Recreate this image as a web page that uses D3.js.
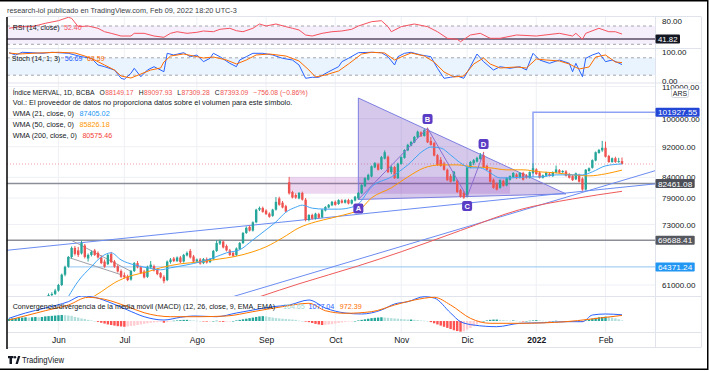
<!DOCTYPE html>
<html lang="es">
<head>
<meta charset="UTF-8">
<title>Índice MERVAL, 1D</title>
<script src="https://d3js.org/d3.v7.min.js"></script>
<style>
  body { margin: 0; background: #fff; }
  svg { display: block; }
  text { font-family: "Liberation Sans", Arial, sans-serif; }
</style>
</head>
<body>
<div id="chart"></div>
<script>
// ---- data ----
const months = ["Jun", "Jul", "Ago", "Sep", "Oct", "Nov", "Dic", "2022", "Feb"];
const monthBar = [15, 35, 57, 78, 99, 119, 139, 160, 181];

// daily bars [open, high, low, close]
const candles = [
  [56800,57300,56300,57000],[57000,57400,56500,56700],[56700,57200,56200,57100],[57100,57800,56900,57600],
  [57600,58000,57000,57200],[57200,57700,56800,57500],[57500,58200,57300,58000],[58000,58300,57400,57600],
  [57600,58100,57200,57900],[57900,58400,57500,58200],[58200,58600,57800,58000],[58000,58800,57900,58600],
  [58600,59500,58400,59200],[59200,59700,58900,59400],[59400,60300,59200,60000],[60000,61200,59800,61000],
  [61000,63100,60800,62900],[62900,64600,62600,64400],[64400,66500,64200,66300],[66300,68400,66000,68100],
  [68100,68500,66600,66900],[67600,68300,66300,66700],[67000,69600,66800,69100],[68600,68900,66000,66300],
  [66000,67000,65400,66700],[66700,67600,66400,67300],[67600,67900,66500,66700],[67100,67400,66000,66200],
  [66200,66600,64900,65100],[65400,65800,64200,64400],[64900,66900,64700,66700],[66900,67300,65100,65300],
  [65400,65700,64200,64400],[64500,64800,63300,63500],[63600,63900,62300,62500],[62800,63300,62200,62400],
  [62600,62900,61700,61900],[62000,63800,61800,63600],[63600,65300,63400,65100],[65100,65500,64100,64300],
  [64300,64600,63000,63200],[63500,63800,62200,62400],[62500,64600,62300,64400],[64300,65500,64000,64800],
  [64500,64800,63500,63700],[63800,64100,62800,63000],[63200,63400,62200,62400],[62500,62800,61300,61700],
  [61900,65600,61700,65400],[65300,66100,65000,65800],[66000,66300,65300,65500],[65500,66400,65300,66200],
  [66200,66500,65100,65300],[65400,66900,65200,66700],[66600,67400,66400,67100],[67500,67900,66000,66200],
  [66400,66700,65200,65400],[65400,66000,65200,65800],[65800,66100,64800,65000],[65100,66100,64900,65900],
  [65900,66200,65000,65200],[65300,66100,65100,65900],[65900,67700,65700,67500],[67500,69700,67300,69100],
  [69000,69800,68700,69500],[69400,69600,68000,68200],[68500,68800,67400,67600],[67600,67900,66500,66700],
  [67100,67400,66300,66500],[66700,68200,66500,68000],[67900,69300,67700,69100],[69100,71400,68900,71200],
  [71200,72600,71000,72300],[72500,72800,71500,71700],[71700,73700,71500,73500],[73500,76500,73300,76300],
  [76300,77000,76000,76700],[76700,77000,75600,75800],[76100,76400,75100,75300],[75400,75700,74500,74700],
  [74900,76500,74700,76300],[76300,79200,76100,78100],[78900,79300,77200,77400],[77900,78300,76600,76800],
  [77100,77400,75700,75900],[82800,84100,79800,80100],[80400,80700,78900,79100],[79700,80100,78800,79100],
  [78900,80400,78700,80200],[80200,80500,78400,78600],[78600,79000,73700,74000],[74000,75300,73700,75100],
  [75100,75400,74100,74300],[74300,75600,74100,75400],[75300,75600,74300,74500],[74600,76500,74400,76300],
  [76100,77100,75900,76900],[76800,77600,76600,77400],[77300,78300,77100,78100],[78100,78400,77200,77400],
  [77600,78700,77400,78500],[78400,78700,77700,77900],[77900,78700,77700,78500],[78500,78800,77500,77700],
  [77700,78700,77500,78500],[78400,79500,78200,79300],[78900,80400,78600,80200],[80100,82300,79900,82100],
  [81800,84000,81600,83800],[83400,84900,83200,84600],[84200,87000,84000,86800],[86500,87900,86300,87600],
  [87300,87700,85700,85900],[86100,89500,85900,89200],[88800,91000,88600,90500],[89300,89600,85100,85300],
  [85300,87000,84800,86600],[86600,86900,83600,83800],[83800,87700,83600,87500],[87400,89400,87200,89200],
  [89000,91300,88800,91100],[91000,92800,90800,92500],[92300,93600,92100,93300],[93200,95000,93000,94700],
  [94600,96500,94400,96200],[96000,96300,94700,94900],[95000,97000,94800,96600],[96400,97400,93000,93200],
  [93600,94700,92300,92500],[93000,93300,89400,89600],[89700,90000,86900,87100],[88500,89200,86700,86900],
  [87500,88000,85700,85900],[85900,86200,83100,83300],[84300,84800,82700,82900],[83100,85600,82900,85400],
  [83200,83500,80200,80400],[80900,81200,79100,79300],[80200,80600,78800,79100],[79300,86800,79100,86500],
  [86500,88200,86300,87900],[87600,88700,87100,88400],[88000,89300,87800,89000],[88700,90300,88500,89700],
  [89700,90600,86400,86600],[86900,87200,85700,85900],[85900,86200,82700,82900],[83400,83700,81200,81400],
  [82400,82700,80800,81000],[81400,83500,81200,83300],[83100,83400,81700,81900],[82000,84000,81800,83800],
  [83400,84500,83200,84300],[84000,85300,83800,85100],[84700,85000,83600,83800],[83900,85300,83700,85100],
  [85100,85400,83200,83400],[84400,84800,83700,83900],[83900,85500,83700,85300],[85100,87600,84900,86300],
  [86000,86300,84600,84800],[85200,85500,83700,83900],[83900,84700,83700,84500],[84400,85400,84200,85200],
  [84900,85100,84200,84400],[84300,85500,84100,85300],[85200,87000,85000,86000],[85800,86100,85000,85200],
  [85300,85800,85100,85600],[85500,85800,84200,84400],[84800,85100,83700,83900],[84300,84600,83100,83300],
  [83500,85200,83300,85000],[84600,84900,82700,82900],[83700,84000,80700,81000],[81000,86100,80800,85900],
  [85600,86500,85400,86300],[86400,88600,86200,88400],[88300,90700,88100,90500],[90300,91400,90100,91100],
  [91000,93600,90600,91700],[91700,93400,89100,89300],[89500,89800,87700,87900],[87900,89100,87700,88900],
  [88900,89300,87700,87900],[87900,89000,87700,88149.17],[88149.17,89097.93,87309.28,87393.09]
];

// moving averages [bar, value]
const wma21 = [[18,58900],[21,61700],[25,64400],[28,66320],[31,67120],[34,65720],[38,64760],[42,64200],
  [46,63820],[49,64200],[54,64760],[58,65330],[62,66120],[66,67120],[70,67730],[74,69740],[78,71870],
  [81,73580],[84,75720],[87,76860],[89,77330],[92,76640],[96,76420],[100,76420],[104,76860],[106,77600],
  [110,81650],[116,84100],[121,87160],[126,91090],[128,91900],[131,91640],[134,89760],[137,87670],
  [140,86400],[143,86400],[146,85120],[149,83850],[152,83850],[157,84100],[161,84100],[166,84610],
  [171,84610],[174,84610],[177,85380],[181,86910],[186,87405.02]];
const wma50 = [[24,58360],[28,59790],[32,61400],[37,62690],[42,63440],[46,64200],[52,64960],[58,65340],
  [64,65920],[68,66320],[74,67330],[78,68330],[83,70170],[88,72300],[93,73580],[98,74460],[104,75590],
  [106,76050],[110,79010],[116,81410],[121,84100],[126,86400],[131,87160],[136,87160],[141,86650],
  [146,86400],[151,85890],[156,85890],[161,85380],[166,85120],[171,84610],[176,84360],[181,84870],[186,85826.18]];
const wma200 = [[76,58900],[88,61220],[106,64570],[119,67330],[137,71720],[155,76310],[171,78770],[186,80575.46]];

const rsi = [[0,65],[3,68.5],[7,68.5],[9,72.2],[11,75.9],[15,81.6],[18,89],[19,86.8],[21,68.5],[24,70],
  [27,65],[29,57.5],[31,54],[34,48.1],[37,48.1],[38,54],[41,54],[44,48.1],[47,45.3],[49,54],[51,57.5],
  [54,54],[57,56.2],[59,59.1],[62,57.5],[64,62.8],[67,65],[69,59.7],[71,57.5],[74,65],[76,74.4],[78,70],
  [81,74.4],[84,68.5],[86,65],[88,61.3],[90,50.3],[92,48.1],[95,54],[98,57.5],[101,59.1],[104,62.8],
  [106,70],[110,79.4],[113,81.6],[115,68.5],[116,57.5],[119,68.5],[123,74.4],[127,68.5],[130,57.5],
  [133,43.1],[136,40.9],[137,35.7],[140,50.3],[143,54],[146,43.1],[149,43.1],[154,50.3],[160,48.1],
  [167,54],[171,48.1],[172,54],[174,40.9],[175,54],[179,65],[182,57.5],[184,57.5],[186,52.4]];

const stochK = [[0,97.6],[2,89.7],[4,99],[7,97.6],[10,95.5],[13,99],[18,95.5],[22,83.8],[25,78.3],[27,55.2],
  [29,49.3],[32,37.9],[34,9.3],[35,5.9],[37,26.6],[38,43.8],[40,14.8],[42,37.9],[44,49.3],[47,32.1],
  [48,95.5],[50,89.7],[53,97.6],[55,83.8],[57,89.7],[59,66.6],[61,78.3],[62,95.5],[64,83.8],[67,61],
  [69,49.3],[70,72.4],[72,83.8],[74,95.5],[77,95.5],[80,89.7],[83,78.3],[86,72.4],[88,55.2],[90,9.3],
  [92,12.8],[94,12.8],[97,32.1],[100,49.3],[101,66.6],[103,78.3],[106,97.6],[110,99],[113,97.6],[115,83.8],
  [117,55.2],[118,83.8],[120,95.5],[122,99],[125,89.7],[128,83.8],[130,43.8],[132,9.3],[134,12.8],
  [136,17.2],[138,9.3],[140,49.3],[142,93.1],[144,66.6],[147,37.9],[149,49.3],[152,43.8],[155,49.3],
  [157,37.9],[159,95.5],[161,72.4],[164,61],[167,72.4],[170,61],[171,32.1],[172,61],[174,14.8],[175,78.3],
  [177,89.7],[179,97.6],[181,66.6],[183,72.4],[186,56.69]];
const stochD = [[0,96.6],[3,93.1],[9,96.6],[15,99],[20,96.6],[23,86.2],[26,72.4],[29,55.2],[32,37.9],
  [34,17.2],[37,10.3],[40,24.1],[43,37.9],[46,44.8],[47,65.5],[49,86.2],[53,93.1],[56,86.2],[59,79.3],
  [62,82.8],[66,72.4],[69,58.6],[72,72.4],[75,89.7],[79,93.1],[84,86.2],[88,69],[91,37.9],[93,13.8],
  [96,20.7],[100,34.5],[103,58.6],[105,75.9],[107,93.1],[110,99],[114,96.6],[117,72.4],[119,82.8],
  [122,96.6],[126,86.2],[129,65.5],[132,31],[135,13.8],[138,17.2],[141,58.6],[144,79.3],[146,58.6],
  [149,44.8],[154,48.3],[157,44.8],[160,75.9],[163,72.4],[167,69],[170,58.6],[173,41.4],[176,48.3],
  [178,82.8],[181,89.7],[184,65.5],[186,63.59]];

const macdLine = [[0,470],[5,1390],[11,2260],[18,3360],[22,4350],[25,4230],[30,3360],[36,1910],[41,750],
  [47,170],[52,640],[56,870],[63,750],[69,1390],[74,1910],[80,2490],[85,2780],[91,3650],[96,2260],
  [102,1390],[107,1220],[113,1910],[117,2960],[121,3360],[126,4230],[129,4000],[134,1390],[137,-120],
  [141,-700],[148,-990],[155,-400],[162,-300],[169,-120],[174,-120],[177,1040],[181,1220],[186,1077.04]];
const signalLine = [[0,170],[11,1790],[18,2780],[24,4120],[29,3770],[36,2490],[41,1440],[49,750],[58,750],
  [66,870],[74,1620],[83,2490],[91,3080],[96,1790],[102,1340],[110,1620],[117,2780],[123,3650],[129,4120],
  [134,2780],[140,470],[146,-400],[155,-400],[169,-120],[176,300],[186,972.39]];
const hist = [
  400,450,500,550,600,650,600,650,700,650,700,800,850,900,950,1000,1050,1000,950,900,
  700,600,450,350,200,100,0,-150,-300,-450,-600,-700,-800,-900,-950,-1000,
  -950,-850,-800,-700,-600,-500,-400,-300,-250,-200,-150,-300,-200,-50,50,
  100,150,200,200,150,100,50,0,-50,-100,-50,0,50,-100,-150,-100,-50,0,
  100,200,300,400,500,600,700,800,850,800,700,600,500,450,400,350,300,250,200,
  50,0,-100,-200,-350,-500,-600,-700,-650,-600,-550,-450,-350,-250,-150,-100,-50,0,
  100,200,300,400,500,550,600,650,600,550,500,450,400,350,300,250,250,200,150,100,
  50,0,-200,-400,-600,-800,-1000,-1200,-1400,-1600,-1750,-1850,-1800,-1500,-1200,-900,-600,-300,
  0,100,200,250,250,200,150,100,
  50,100,50,0,-50,0,50,100,150,100,50,0,-50,0,50,0,-50,-100,-150,-100,-50,-100,-150,
  100,250,400,550,650,700,750,700,600,450,300,104.65
];

const priceTicks = [110000, 100000, 92000, 84000, 79000, 73000, 61000];
const priceLevels = [
  { price: 82461.08, from: 0, color: "#8b8e96", box: "#4c4f57", width: 1.5 },
  { price: 69688.41, from: 0, color: "#8b8e96", box: "#54575e", width: 1.5 },
  { price: 64371.24, from: 18, color: "#90c4f5", box: "#2196f3", width: 1 }
];
const lastClose = 87393.09;
const rsiLevel = 41.82;

// drawings [bar, price]
const trendLines = [
  { a: [0, 67670], b: [186, 81550], color: "#6b8cf2" },
  { a: [90, 62850], b: [175, 80560], color: "#6b8cf2" }
];
const flagLines = [
  { a: [19, 69630], b: [37, 63530] },
  { a: [18, 66220], b: [34, 62900] }
];
const triangle = [[106, 106320], [106, 78650], [169, 79970]];
const zoneBox = { from: 85, to: 152, top: 84100, bottom: 80000 };
const abcd = [
  { label: "A", bar: 106, price: 78650, pos: 1 },
  { label: "B", bar: 127, price: 97250, pos: -1 },
  { label: "C", bar: 139, price: 79250, pos: 1 },
  { label: "D", bar: 144, price: 90300, pos: -1 }
];
const target = { bar: 159, from: 84100, to: 101927.55 };

// ---- layout ----
const W = 709, H = 371;
const left = 7, right = 655, axisEdge = 701;
const paneRsi = [17, 48], paneSto = [48, 83], paneMain = [83, 296], paneMacd = [296, 332];

const x = d3.scaleLinear().domain([0, candles.length - 1]).range([9, 622]);
const y = d3.scaleLog().domain([61000, 92000]).range([285, 146.7]);
const yRsi = d3.scaleLinear().domain([30, 70]).range([44.3, 26]);
const ySto = d3.scaleLinear().domain([0, 100]).range([81, 52]);
const yMacd = d3.scaleLinear().domain([0, 4000]).range([321, 298]);

const svg = d3.select("#chart").append("svg").attr("width", W).attr("height", H);
svg.append("rect").attr("width", W).attr("height", H).attr("fill", "#fff");

const defs = svg.append("defs");
function clip(id, y0, y1, x0 = left, x1 = right) {
  defs.append("clipPath").attr("id", id).append("rect")
    .attr("x", x0).attr("y", y0).attr("width", x1 - x0).attr("height", y1 - y0);
  return `url(#${id})`;
}
const clipRsi = clip("c-rsi", ...paneRsi), clipSto = clip("c-sto", ...paneSto);
const clipMain = clip("c-main", ...paneMain), clipMacd = clip("c-macd", ...paneMacd);
const clipMacdAxis = clip("c-macd-ax", paneMacd[0], paneMacd[1], right, axisEdge);

// grid
const grid = svg.append("g").attr("stroke", "#eef0f5").attr("stroke-width", 1);
monthBar.forEach(b => grid.append("line").attr("x1", x(b)).attr("x2", x(b)).attr("y1", paneRsi[0]).attr("y2", paneMacd[1]));
priceTicks.forEach(p => grid.append("line").attr("x1", left).attr("x2", right).attr("y1", y(p)).attr("y2", y(p)));

// pane separators and axis frame
const sep = svg.append("g").attr("stroke", "#e0e3eb").attr("stroke-width", 1);
[16.5, 48.5, 83, 296.5, 332.5, 347.5].forEach(v =>
  sep.append("line").attr("x1", left).attr("x2", axisEdge).attr("y1", v).attr("y2", v));
[right + 0.5, axisEdge + 0.5].forEach(v =>
  sep.append("line").attr("x1", v).attr("x2", v).attr("y1", 16.5).attr("y2", 347.5));

const line = (xs, ys) => d3.line().x(d => xs(d[0])).y(d => ys(d[1]));

// ---- RSI pane ----
const gR = svg.append("g").attr("clip-path", clipRsi);
gR.append("rect").attr("x", left).attr("width", right - left)
  .attr("y", yRsi(70)).attr("height", yRsi(30) - yRsi(70)).attr("fill", "#f4effb");
[70, 30].forEach(v => gR.append("line").attr("x1", left).attr("x2", right)
  .attr("y1", yRsi(v)).attr("y2", yRsi(v)).attr("stroke", "#a4a6ae").attr("stroke-dasharray", "3,3"));
gR.append("line").attr("x1", left).attr("x2", right).attr("y1", yRsi(rsiLevel)).attr("y2", yRsi(rsiLevel))
  .attr("stroke", "#5b4c66").attr("stroke-width", 1.5);
gR.append("path").datum(rsi).attr("d", line(x, yRsi)).attr("fill", "none")
  .attr("stroke", "#f7525f").attr("stroke-width", 1);

// ---- Stoch pane ----
const gS = svg.append("g").attr("clip-path", clipSto);
gS.append("rect").attr("x", left).attr("width", right - left)
  .attr("y", ySto(80)).attr("height", ySto(20) - ySto(80)).attr("fill", "#eaf4fe");
[80, 20].forEach(v => gS.append("line").attr("x1", left).attr("x2", right)
  .attr("y1", ySto(v)).attr("y2", ySto(v)).attr("stroke", "#a4a6ae").attr("stroke-dasharray", "3,3"));
gS.append("path").datum(stochK).attr("d", line(x, ySto)).attr("fill", "none").attr("stroke", "#2962ff").attr("stroke-width", 1);
gS.append("path").datum(stochD).attr("d", line(x, ySto)).attr("fill", "none").attr("stroke", "#ff6d00").attr("stroke-width", 1);

// ---- main pane ----
const gM = svg.append("g").attr("clip-path", clipMain);
const px = p => [x(p[0]), y(p[1])];

gM.append("line").attr("x1", left).attr("x2", right).attr("y1", y(lastClose)).attr("y2", y(lastClose))
  .attr("stroke", "#f5a0a6").attr("stroke-dasharray", "1,2");
priceLevels.forEach(l => gM.append("line").attr("x1", l.from ? x(l.from) : left)
  .attr("x2", right).attr("y1", y(l.price)).attr("y2", y(l.price))
  .attr("stroke", l.color).attr("stroke-width", l.width));

// zone + triangle
gM.append("rect").attr("x", x(zoneBox.from)).attr("width", x(zoneBox.to) - x(zoneBox.from))
  .attr("y", y(zoneBox.top)).attr("height", y(zoneBox.bottom) - y(zoneBox.top))
  .attr("fill", "rgba(171,71,188,0.22)");
gM.append("polygon").attr("points", triangle.map(p => px(p).join(",")).join(" "))
  .attr("fill", "rgba(103,58,183,0.28)").attr("stroke", "#7d7fe0").attr("stroke-width", 1);

// extended trend lines
function extend(a, b) {
  const [x1, y1] = px(a), [x2, y2] = px(b), k = (y2 - y1) / (x2 - x1);
  return [[left, y1 + (left - x1) * k], [right, y1 + (right - x1) * k]];
}
trendLines.forEach(t => {
  const [p, q] = extend(t.a, t.b);
  gM.append("line").attr("x1", p[0]).attr("y1", p[1]).attr("x2", q[0]).attr("y2", q[1])
    .attr("stroke", t.color).attr("stroke-width", 1);
});
flagLines.forEach(t => gM.append("line").attr("x1", px(t.a)[0]).attr("y1", px(t.a)[1])
  .attr("x2", px(t.b)[0]).attr("y2", px(t.b)[1]).attr("stroke", "#a0a0a8").attr("stroke-width", 1));

// target line
gM.append("path").attr("d", `M${x(target.bar)},${y(target.from)}V${y(target.to)}H${right}`)
  .attr("fill", "none").attr("stroke", "#8ea2f4").attr("stroke-width", 1.5);

// candles
const up = "#26a69a", down = "#ef5350";
const gC = gM.append("g");
candles.forEach((c, i) => {
  const [o, h, l, cl] = c, col = cl >= o ? up : down;
  gC.append("line").attr("x1", x(i)).attr("x2", x(i)).attr("y1", y(h)).attr("y2", y(l))
    .attr("stroke", col).attr("stroke-width", 1);
  const top = y(Math.max(o, cl)), bot = y(Math.min(o, cl));
  gC.append("rect").attr("x", x(i) - 1.2).attr("width", 2.4)
    .attr("y", top).attr("height", Math.max(1, bot - top)).attr("fill", col);
});

// WMAs
const curve = d3.line().x(d => x(d[0])).y(d => y(d[1])).curve(d3.curveMonotoneX);
[[wma200, "#f05a5a"], [wma50, "#ff9800"], [wma21, "#42a5f5"]].forEach(([d, col]) =>
  gM.append("path").datum(d).attr("d", curve).attr("fill", "none").attr("stroke", col).attr("stroke-width", 1));

// ABCD pattern
gM.append("path").datum(abcd).attr("d", d3.line().x(d => x(d.bar)).y(d => y(d.price)))
  .attr("fill", "none").attr("stroke", "#8a6fd1").attr("stroke-width", 1);
abcd.forEach(d => {
  const cx = x(d.bar), cy = y(d.price) + d.pos * 9;
  gM.append("rect").attr("x", cx - 5).attr("y", cy - 5).attr("width", 10).attr("height", 10)
    .attr("rx", 2).attr("fill", "#5b3cc4");
  gM.append("text").attr("x", cx).attr("y", cy + 3).attr("text-anchor", "middle")
    .attr("font-size", 7.5).attr("font-weight", "bold").attr("fill", "#fff").text(d.label);
});

// ---- MACD pane ----
const gD = svg.append("g").attr("clip-path", clipMacd);
hist.forEach((v, i) => {
  const prev = i ? hist[i - 1] : 0;
  const col = v >= 0 ? (v >= prev ? "#26a69a" : "#b2dfdb") : (v < prev ? "#ff5252" : "#ffcdd2");
  const y0 = yMacd(0), y1 = yMacd(v);
  gD.append("rect").attr("x", x(i) - 1.2).attr("width", 2.4)
    .attr("y", Math.min(y0, y1)).attr("height", Math.max(0.5, Math.abs(y1 - y0))).attr("fill", col);
});
const smooth = (ys) => d3.line().x(d => x(d[0])).y(d => ys(d[1])).curve(d3.curveMonotoneX);
gD.append("path").datum(macdLine).attr("d", smooth(yMacd)).attr("fill", "none").attr("stroke", "#2962ff").attr("stroke-width", 1);
gD.append("path").datum(signalLine).attr("d", smooth(yMacd)).attr("fill", "none").attr("stroke", "#ff6d00").attr("stroke-width", 1);

// ---- axes ----
const fmt = d3.format(".2f");
const font = '"Liberation Sans", Arial, sans-serif';
function rightAxis(scale, ticks, clipUrl) {
  const g = svg.append("g").attr("transform", `translate(${right},0)`)
    .call(d3.axisRight(scale).tickValues(ticks).tickFormat(fmt).tickSize(0).tickPadding(7));
  g.select(".domain").remove();
  g.selectAll("text").attr("font-size", 8).attr("fill", "#131722").attr("font-family", font);
  if (clipUrl) g.attr("clip-path", clipUrl);
  return g;
}
rightAxis(yRsi, [80]);
rightAxis(ySto, [100, 0]);
rightAxis(y, priceTicks);
rightAxis(yMacd, [4000, 0], clipMacdAxis);

function priceBox(yv, label, fill) {
  const w = label.length * 4.9;
  svg.append("rect").attr("x", right + 0.5).attr("y", yv - 4.5).attr("width", w)
    .attr("height", 9).attr("rx", 1).attr("fill", fill);
  svg.append("text").attr("x", right + 3).attr("y", yv + 3).attr("font-size", 8)
    .attr("textLength", w - 5).attr("lengthAdjust", "spacingAndGlyphs")
    .attr("fill", "#fff").text(label);
}
priceBox(yRsi(rsiLevel), fmt(rsiLevel), "#131722");
priceBox(y(target.to), fmt(target.to), "#2246d6");
priceLevels.forEach(l => priceBox(y(l.price), fmt(l.price), l.box));

// currency tag
svg.append("rect").attr("x", 671.5).attr("y", 88.5).attr("width", 17).attr("height", 9).attr("rx", 2)
  .attr("fill", "#fff").attr("stroke", "#d1d4dc");
svg.append("text").attr("x", 680).attr("y", 95.5).attr("text-anchor", "middle")
  .attr("font-size", 7).attr("fill", "#131722").text("ARS");

// time axis
const gT = svg.append("g").attr("transform", "translate(0,332)")
  .call(d3.axisBottom(x).tickValues(monthBar).tickFormat((d, k) => months[k]).tickSize(0).tickPadding(5));
gT.select(".domain").remove();
gT.selectAll("text").attr("font-size", 8.5).attr("fill", "#131722").attr("font-family", font)
  .attr("font-weight", (d, k) => months[k] === "2022" ? "bold" : null);

// ---- legends: each row laid out left to right, font shrunk to the width seen ----
const ink = "#131722", red = "#ef5350";
function row(x0, y0, width, parts) {
  const nodes = parts.map(([s, c]) => svg.append("text").attr("y", y0 + 3)
    .attr("font-size", 8).attr("fill", c).text(s));
  const w = nodes.map(n => n.node().getComputedTextLength());
  const gaps = parts.map(p => p[2] || 0);
  const k = Math.min(1, width / (d3.sum(w) + d3.sum(gaps)));
  let cx = x0;
  nodes.forEach((n, i) => {
    cx += gaps[i] * k;
    n.attr("x", cx).attr("font-size", 8 * k);
    cx += w[i] * k;
  });
}
row(7, 10, 230, [["research-iol publicado en TradingView.com, Feb 09, 2022 18:20 UTC-3", "#3a3d45"]]);
row(12.7, 27.3, 69, [["RSI (14, close)", ink], ["52.40", "#f7525f", 5]]);
row(11.7, 58.3, 93, [["Stoch (14, 1, 3)", ink], ["56.69", "#2962ff", 5], ["63.59", "#ff6d00", 5]]);
row(12.7, 91.7, 295, [["Índice MERVAL, 1D, BCBA", ink], ["O", ink, 6], ["88149.17", red, 0.5],
  ["H", ink, 6], ["89097.93", red, 0.5], ["L", ink, 6], ["87309.28", red, 0.5],
  ["C", ink, 6], ["87393.09", red, 0.5], ["−756.08 (−0.86%)", red, 6]]);
row(12.7, 102.3, 280, [["Vol.: El proveedor de datos no proporciona datos sobre el volumen para este símbolo.", ink]]);
row(12.7, 113.3, 97, [["WMA (21, close, 0)", ink], ["87405.02", "#2196f3", 6]]);
row(12.7, 124.3, 97, [["WMA (50, close, 0)", ink], ["85826.18", "#ff9800", 6]]);
row(12.7, 135.3, 99.5, [["WMA (200, close, 0)", ink], ["80575.46", "#f44336", 6]]);
row(12.7, 305.7, 349, [["Convergencia/divergencia de la media móvil (MACD) (12, 26, close, 9, EMA, EMA)", ink],
  ["104.65", "#9fd8d2", 8], ["1077.04", "#2962ff", 4], ["972.39", "#ff6d00", 6]]);

// TradingView mark
const logo = svg.append("g").attr("fill", ink);
logo.append("path").attr("d", "M8,356H13.5V358.3H12V364H9.5V358.3H8Z");
logo.append("circle").attr("cx", 15).attr("cy", 357.3).attr("r", 1.2);
logo.append("path").attr("d", "M15.5,364L18,356H20.3L17.8,364Z");
svg.append("text").attr("x", 22).attr("y", 363).attr("font-size", 9).attr("fill", ink)
  .attr("textLength", 42).attr("lengthAdjust", "spacingAndGlyphs").text("TradingView");

// frame
const frame = svg.append("g").attr("stroke", "#000").attr("fill", "none");
frame.append("path").attr("d", `M0,0.75H${W - 1.25}V${H - 1.75}H0`).attr("stroke-width", 1.5);
frame.append("line").attr("x1", 7).attr("x2", 7).attr("y1", 17).attr("y2", 349).attr("stroke-width", 1.5);
</script>
</body>
</html>
